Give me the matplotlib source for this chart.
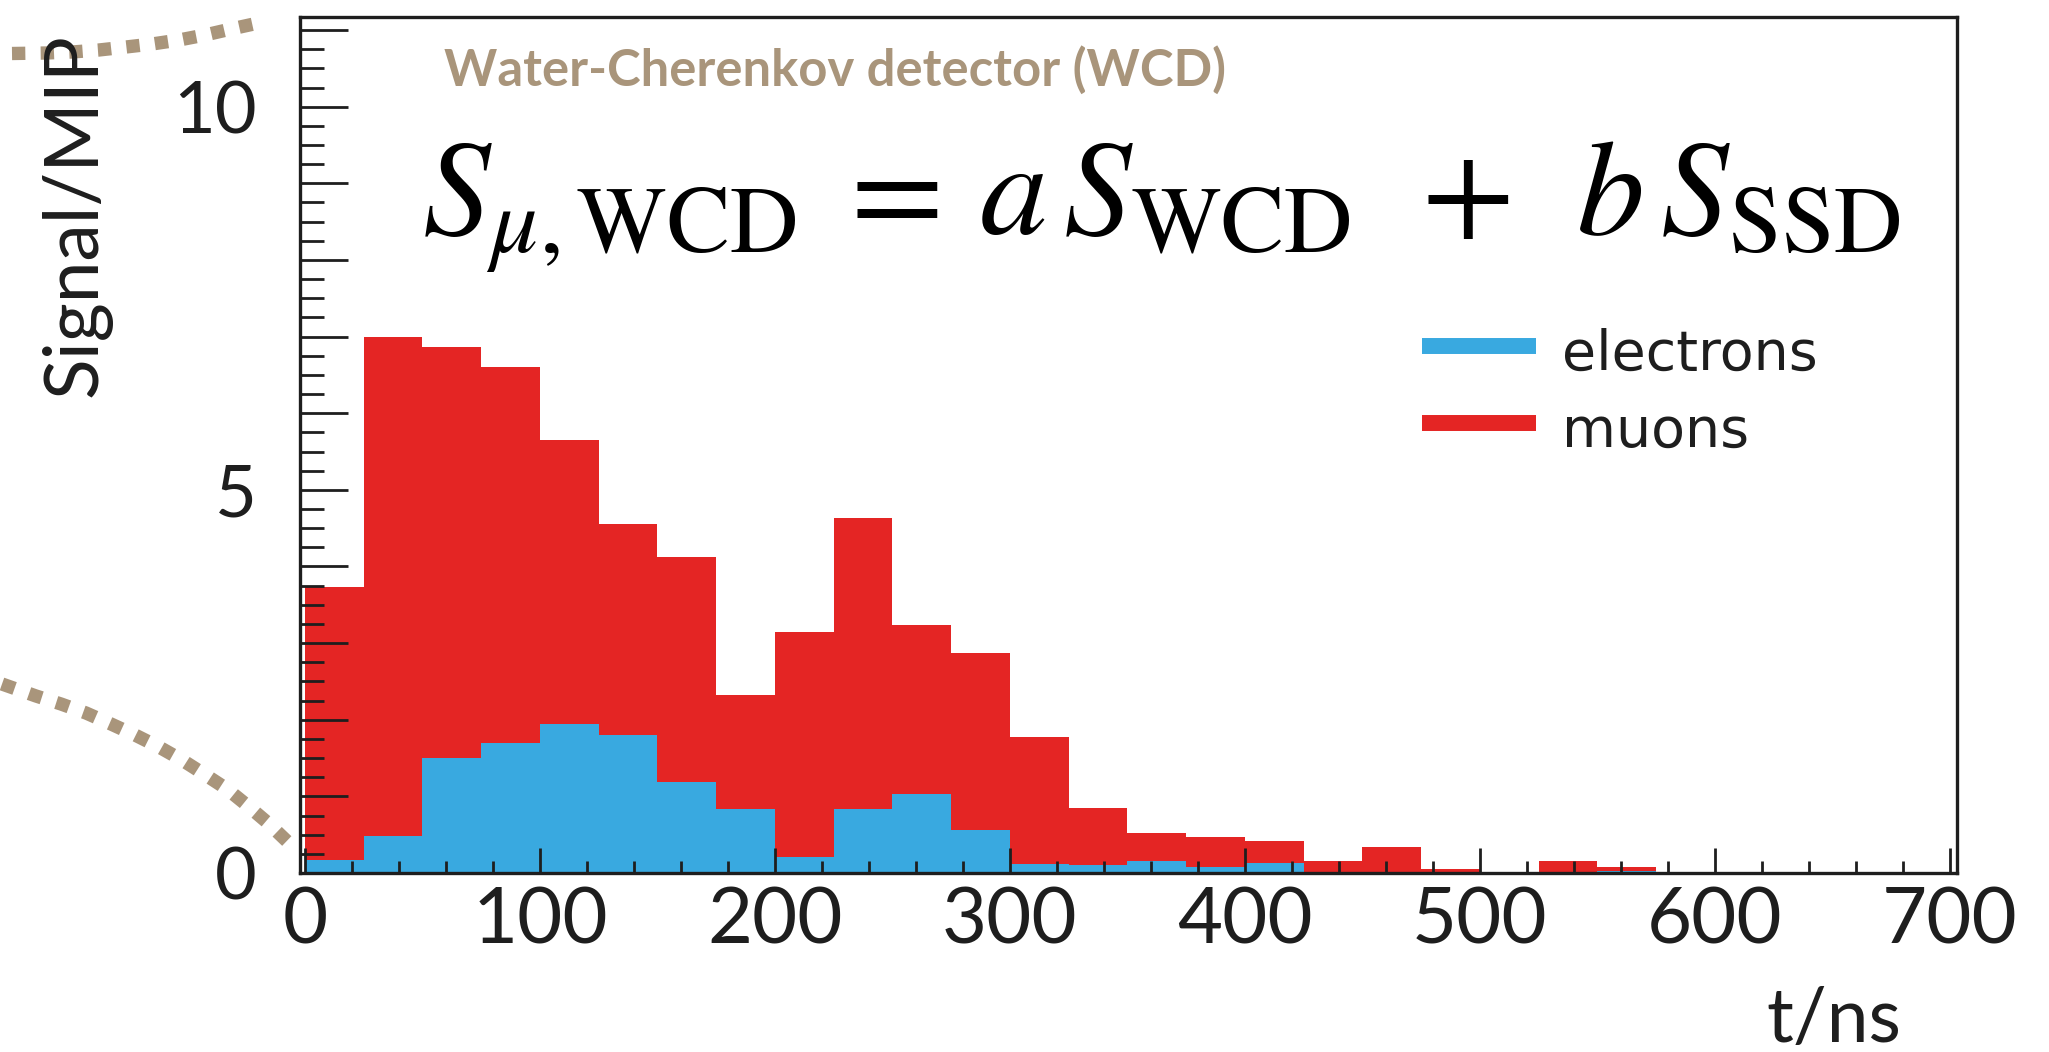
import matplotlib
matplotlib.use('Agg')
import matplotlib.pyplot as plt
from matplotlib.lines import Line2D
from matplotlib.ticker import MultipleLocator, FuncFormatter

# === Data (25 ns bins, Signal/MIP) ===
t_lo = [0, 25, 50, 75, 100, 125, 150, 175, 200, 225, 250, 275, 300, 325,
        350, 375, 400, 425, 450, 475, 500, 525, 550, 575, 600, 625, 650, 675]
bin_width = 25
muons = [3.73, 6.99, 6.86, 6.60, 5.65, 4.55, 4.12, 2.32, 3.15, 4.63, 3.23, 2.87, 1.77, 0.85,
         0.52, 0.47, 0.42, 0.16, 0.34, 0.05, 0.0, 0.16, 0.08, 0.0, 0.0, 0.0, 0.0, 0.0]
electrons = [0.17, 0.48, 1.50, 1.69, 1.94, 1.80, 1.19, 0.835, 0.205, 0.835, 1.03, 0.56, 0.117, 0.11,
             0.16, 0.08, 0.135, 0.0, 0.0, 0.0, 0.0, 0.0, 0.02, 0.0, 0.0, 0.0, 0.0, 0.0]
series_labels = ['electrons', 'muons']

RED = '#e42524'
BLUE = '#39a9e0'
TAN = '#a9957b'
INK = '#1e1e1e'

W, H = 2049, 1052
plt.rcParams['mathtext.fontset'] = 'stix'

fig = plt.figure(figsize=(W / 100, H / 100), dpi=100)
ax = fig.add_axes([300 / W, 1 - 873 / H, (1957 - 300) / W, (873 - 17) / H])

ax.bar(t_lo, muons, width=bin_width, align='edge', color=RED, linewidth=0, zorder=1)
ax.bar(t_lo, electrons, width=bin_width, align='edge', color=BLUE, linewidth=0, zorder=1.5)

ax.set_xlim(-2.1, 703)
ax.set_ylim(0, 11.17)

# ticks, ROOT style (inward, labels only at 0/5/10 on y)
ax.xaxis.set_major_locator(MultipleLocator(100))
ax.xaxis.set_minor_locator(MultipleLocator(20))
ax.yaxis.set_major_locator(MultipleLocator(1))
ax.yaxis.set_minor_locator(MultipleLocator(0.25))
ax.yaxis.set_major_formatter(FuncFormatter(lambda v, p: f'{v:.0f}' if round(v) % 5 == 0 else ''))
ax.tick_params(axis='x', which='major', direction='in', length=18, width=2, color=INK,
               labelsize=56, pad=10, top=False)
ax.tick_params(axis='x', which='minor', direction='in', length=8.6, width=2, color=INK, top=False)
ax.tick_params(axis='y', which='major', direction='in', length=34.5, width=2, color=INK,
               labelsize=52, pad=31, right=False)
ax.tick_params(axis='y', which='minor', direction='in', length=17, width=2, color=INK, right=False)
for lab in ax.get_xticklabels() + ax.get_yticklabels():
    lab.set_family('Lato')
    lab.set_color(INK)
for s in ax.spines.values():
    s.set_linewidth(2.4)
    s.set_color(INK)

# axis titles
fig.text(97 / W, 1 - 33 / H, 'Signal/MIP', rotation=90, rotation_mode='anchor',
         ha='right', va='baseline', fontsize=54, family='Lato', color=INK)
fig.text(1901 / W, 1 - 1042 / H, 't/ns', ha='right', va='baseline',
         fontsize=54, family='Lato', color=INK)

# header and formula
fig.text(444 / W, 1 - 86 / H, 'Water-Cherenkov detector (WCD)', va='baseline',
         fontsize=36.5, fontweight='bold', family='Lato', color=TAN)
fig.text(422 / W, 1 - 235 / H,
         r'$S_{\mu,\mathrm{WCD}}\;=\,a\,S_{\mathrm{WCD}}\;\,+\;\,b\,S_{\mathrm{SSD}}$',
         va='baseline', fontsize=97.5, color='black')

# legend
for yy, col, lab in [(346, BLUE, series_labels[0]), (423, RED, series_labels[1])]:
    fig.add_artist(Line2D([1422 / W, 1536 / W], [1 - yy / H, 1 - yy / H], lw=11.5,
                          color=col, solid_capstyle='butt'))
    fig.text(1562 / W, 1 - (yy + 24) / H, lab, va='baseline', fontsize=40,
             family='DejaVu Sans', color=INK)

# dotted outline from the detector sketch
top_x = [12, 46, 72, 99, 126, 152, 179, 205, 231, 263]
top_y = [53.5, 53, 52, 50, 47, 44, 40, 35, 29, 22]
low_x = [2, 36, 61, 86, 111, 135, 159, 182, 204, 227, 248, 268, 292]
low_y = [684, 696, 704, 713, 724, 735, 747, 760, 774, 789, 806, 823, 846]
for xs, ys in [(top_x, top_y), (low_x, low_y)]:
    fig.add_artist(Line2D([x / W for x in xs], [1 - y / H for y in ys], lw=9.6,
                          color=TAN, dashes=(1.0, 1.15), dash_capstyle='butt'))

fig.savefig('out.png', dpi=100)
